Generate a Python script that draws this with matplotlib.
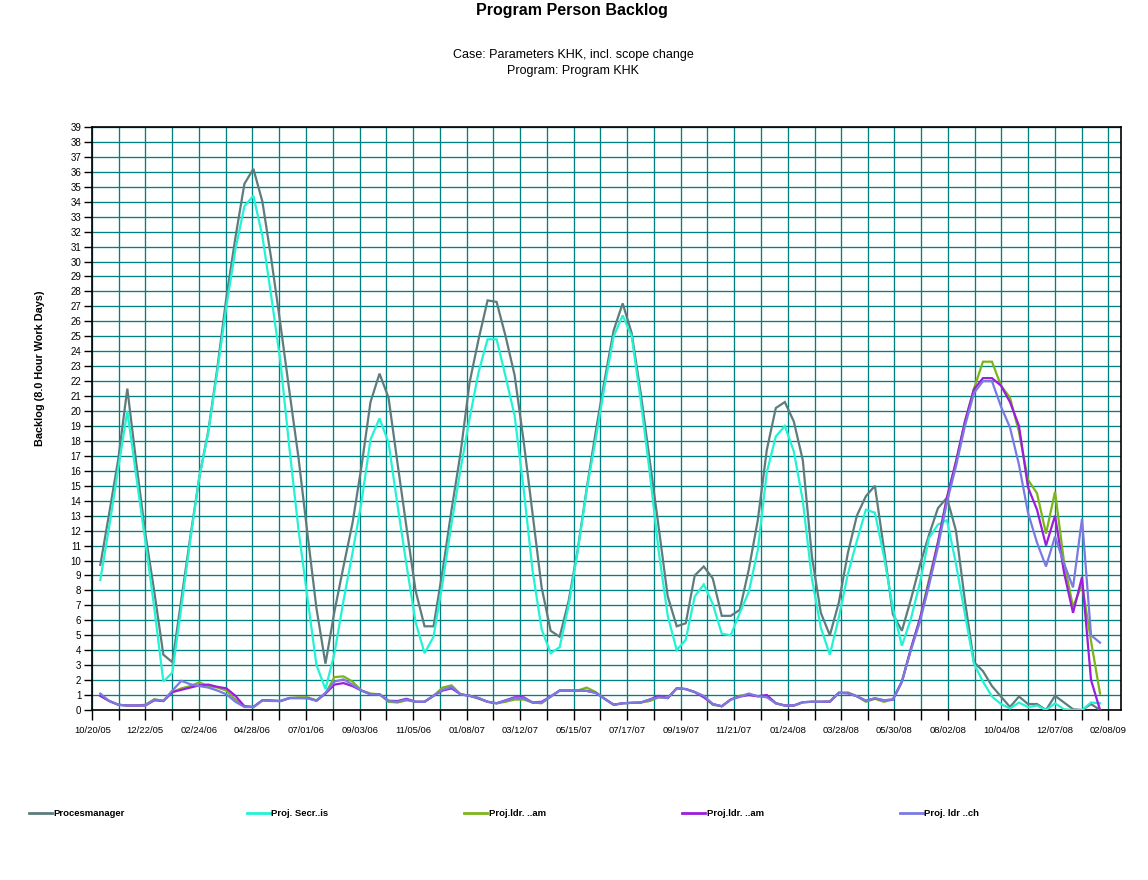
import numpy as np
import pandas as pd
import matplotlib
matplotlib.use("Agg")
import matplotlib.pyplot as plt
from matplotlib.lines import Line2D

plt.rcParams['font.family'] = ['Liberation Sans', 'DejaVu Sans']

# ---------------- data ----------------
title = "Program Person Backlog"
subtitle1 = "Case: Parameters KHK, incl. scope change"
subtitle2 = "Program: Program KHK"
ylabel = "Backlog (8.0 Hour Work Days)"

tick_labels = ['10/20/05', '12/22/05', '02/24/06', '04/28/06', '07/01/06', '09/03/06',
               '11/05/06', '01/08/07', '03/12/07', '05/15/07', '07/17/07', '09/19/07',
               '11/21/07', '01/24/08', '03/28/08', '05/30/08', '08/02/08', '10/04/08',
               '12/07/08', '02/08/09']

series_names = ['Procesmanager', 'Proj. Secr..is', 'Proj.ldr. ..am', 'Proj.ldr. ..am', 'Proj. ldr ..ch']
series_colors = ['#5E7C7C', '#22F2D6', '#7CB518', '#9A1EDC', '#7A7AE2']

# sample times: days after 10/20/05 of the first sample, and sample step (days)
first_sample_day = 9.5
sample_step_days = 10.7

procesmanager = [
    9.7, 13.2, 16.8, 21.5, 16.5, 11.8, 7.9, 3.7, 3.2, 7.4,
    11.6, 15.6, 18.7, 22.9, 27.6, 31.6, 35.2, 36.2, 34.0, 30.1,
    25.8, 21.3, 16.9, 11.8, 6.8, 3.1, 6.6, 9.6, 12.5, 16.3,
    20.6, 22.5, 20.9, 16.5, 12.2, 8.0, 5.6, 5.6, 9.3, 13.4,
    17.2, 21.9, 24.8, 27.4, 27.3, 25.0, 22.4, 18.0, 13.1, 8.2,
    5.3, 4.9, 7.3, 10.7, 14.8, 18.6, 22.1, 25.4, 27.2, 25.2,
    21.2, 16.7, 12.2, 7.6, 5.6, 5.8, 9.0, 9.6, 8.8, 6.3,
    6.3, 6.7, 9.4, 12.7, 17.4, 20.2, 20.6, 19.3, 16.7, 10.3,
    6.5, 5.0, 7.2, 10.5, 13.0, 14.3, 15.0, 10.8, 6.4, 5.3,
    7.4, 9.7, 11.7, 13.5, 14.2, 12.0, 7.3, 3.2, 2.6, 1.6,
    0.9, 0.2, 0.9, 0.4, 0.4, 0.0, 0.95, 0.5, 0.05, 0.0,
    0.4, 0.0]

proj_secr = [
    8.7, 12.3, 16.2, 20.0, 15.6, 11.3, 6.8, 1.9, 2.5, 6.9,
    11.4, 15.6, 18.6, 22.7, 27.0, 30.8, 33.7, 34.4, 31.7, 27.6,
    23.3, 17.5, 12.1, 7.5, 3.0, 1.4, 3.8, 7.3, 10.5, 13.9,
    18.1, 19.5, 17.9, 13.7, 9.7, 5.9, 3.8, 4.9, 8.5, 12.5,
    16.1, 19.5, 22.6, 24.8, 24.8, 22.3, 19.7, 14.8, 9.3, 5.4,
    3.8, 4.2, 7.0, 10.6, 14.7, 18.1, 21.7, 25.0, 26.4, 25.0,
    20.7, 15.9, 10.6, 6.3, 4.0, 4.7, 7.6, 8.4, 7.1, 5.1,
    5.0, 6.5, 7.9, 10.7, 15.9, 18.3, 19.0, 17.3, 14.0, 8.8,
    5.5, 3.7, 6.2, 9.1, 11.3, 13.4, 13.2, 10.3, 6.8, 4.3,
    6.1, 8.5, 11.5, 12.4, 12.7, 9.8, 6.4, 3.1, 1.9, 0.9,
    0.4, 0.1, 0.5, 0.2, 0.3, 0.0, 0.45, 0.05, 0.0, 0.0,
    0.5, 0.45]

proj_ldr_am_green = [
    0.95, 0.6, 0.35, 0.3, 0.3, 0.35, 0.72, 0.6, 1.2, 1.45,
    1.6, 1.85, 1.6, 1.5, 1.3, 0.7, 0.25, 0.2, 0.65, 0.65,
    0.6, 0.8, 0.85, 0.85, 0.65, 1.1, 2.2, 2.25, 1.9, 1.3,
    1.1, 1.05, 0.55, 0.5, 0.65, 0.55, 0.55, 0.95, 1.5, 1.65,
    1.05, 0.95, 0.75, 0.55, 0.45, 0.55, 0.7, 0.7, 0.5, 0.45,
    0.9, 1.3, 1.3, 1.3, 1.5, 1.2, 0.75, 0.35, 0.45, 0.48,
    0.5, 0.6, 0.85, 0.8, 1.45, 1.4, 1.2, 0.9, 0.35, 0.25,
    0.7, 0.95, 1.05, 0.92, 0.95, 0.45, 0.3, 0.3, 0.52, 0.55,
    0.55, 0.56, 1.15, 1.18, 0.92, 0.55, 0.75, 0.55, 0.7, 1.9,
    4.1, 6.1, 8.7, 11.2, 14.2, 16.6, 19.3, 21.5, 23.3, 23.3,
    21.7, 20.9, 18.6, 15.4, 14.5, 11.8, 14.6, 9.9, 6.9, 8.4,
    4.6, 1.1]

proj_ldr_am_purple = [
    0.95, 0.6, 0.35, 0.3, 0.3, 0.3, 0.65, 0.6, 1.2, 1.35,
    1.5, 1.65, 1.7, 1.55, 1.45, 0.95, 0.25, 0.2, 0.65, 0.62,
    0.6, 0.8, 0.8, 0.8, 0.62, 1.1, 1.7, 1.8, 1.6, 1.3,
    1.05, 1.05, 0.62, 0.6, 0.75, 0.55, 0.55, 0.95, 1.3, 1.45,
    1.05, 0.95, 0.8, 0.55, 0.45, 0.65, 0.85, 0.85, 0.5, 0.55,
    0.9, 1.3, 1.3, 1.3, 1.28, 1.15, 0.75, 0.35, 0.45, 0.48,
    0.5, 0.7, 0.95, 0.8, 1.45, 1.4, 1.2, 0.85, 0.4, 0.25,
    0.7, 0.9, 1.0, 0.92, 1.0, 0.45, 0.3, 0.3, 0.52, 0.55,
    0.55, 0.56, 1.15, 1.12, 0.92, 0.62, 0.78, 0.65, 0.7, 1.9,
    4.1, 6.1, 8.5, 11.2, 14.2, 16.6, 19.3, 21.45, 22.2, 22.2,
    21.7, 20.6, 19.0, 14.9, 13.4, 11.0, 13.0, 9.2, 6.5, 8.9,
    2.0, 0.0]

proj_ldr_ch = [
    1.1, 0.6, 0.35, 0.3, 0.3, 0.3, 0.7, 0.62, 1.3, 1.95,
    1.72, 1.6, 1.5, 1.3, 1.05, 0.55, 0.2, 0.2, 0.65, 0.6,
    0.6, 0.8, 0.8, 0.78, 0.62, 1.15, 1.9, 2.05, 1.7, 1.3,
    1.05, 1.05, 0.6, 0.55, 0.7, 0.55, 0.55, 0.95, 1.35, 1.55,
    1.05, 0.95, 0.8, 0.55, 0.45, 0.62, 0.8, 0.78, 0.5, 0.5,
    0.9, 1.3, 1.3, 1.3, 1.28, 1.15, 0.75, 0.35, 0.45, 0.48,
    0.5, 0.7, 0.85, 0.8, 1.45, 1.4, 1.2, 0.95, 0.4, 0.25,
    0.7, 0.88, 1.1, 0.92, 0.85, 0.45, 0.3, 0.3, 0.52, 0.55,
    0.55, 0.56, 1.15, 1.12, 0.92, 0.62, 0.78, 0.65, 0.7, 1.9,
    4.0, 5.9, 8.3, 10.9, 13.9, 16.3, 19.0, 21.2, 22.0, 22.0,
    20.3, 18.9, 16.4, 13.2, 11.2, 9.6, 11.6, 9.8, 8.2, 12.8,
    5.0, 4.5]

all_series = [procesmanager, proj_secr, proj_ldr_am_green, proj_ldr_am_purple, proj_ldr_ch]

# ---------------- figure ----------------
W, H = 1148, 880
fig = plt.figure(figsize=(W / 100, H / 100), dpi=100)
fig.patch.set_facecolor('white')

ax_l, ax_r, ax_t, ax_b = 92.3, 1120.7, 127.0, 710.0
ax = fig.add_axes([ax_l / W, 1 - ax_b / H, (ax_r - ax_l) / W, (ax_b - ax_t) / H])

tick_dates = pd.to_datetime(tick_labels, format='%m/%d/%y')
tick_days = np.array([(d - tick_dates[0]).days for d in tick_dates], dtype=float)
mid_days = (tick_days[:-1] + tick_days[1:]) / 2
all_ticks = np.sort(np.concatenate([tick_days, mid_days]))
all_labels = []
for t in all_ticks:
    if np.any(np.isclose(t, tick_days)):
        all_labels.append(tick_labels[int(np.argmin(np.abs(tick_days - t)))])
    else:
        all_labels.append('')

px_per_day = (1108.3 - 92.3) / tick_days[-1]
x_right = (ax_r - ax_l) / px_per_day

n = len(procesmanager)
days = first_sample_day + sample_step_days * np.arange(n)

for vals, name, col in zip(all_series, series_names, series_colors):
    ax.plot(days, vals, color=col, lw=1.6, solid_joinstyle='miter', label=name, zorder=3)

ax.set_xlim(0, x_right)
ax.set_ylim(0, 39)
ax.set_xticks(all_ticks)
ax.set_xticklabels(all_labels, fontsize=6.8)
ax.set_yticks(range(0, 40))
ax.set_yticklabels([str(i) for i in range(0, 40)], fontsize=7.0)
ax.grid(True, color='#008080', lw=0.95, zorder=1)
ax.set_axisbelow(True)
ax.tick_params(axis='x', direction='out', length=7.5, width=1.0, color='black', pad=4)
ax.tick_params(axis='y', direction='out', length=6, width=1.0, color='black', pad=2)
for s in ax.spines.values():
    s.set_color('black')
    s.set_linewidth(1.2)

# ---------------- texts ----------------
fig.text(572 / W, 1 - 10 / H, title, ha='center', va='center', fontsize=11.5, weight='bold')
fig.text(573 / W, 1 - 55 / H, subtitle1, ha='center', va='center', fontsize=9)
fig.text(573 / W, 1 - 71 / H, subtitle2, ha='center', va='center', fontsize=9)
fig.text(40 / W, 1 - 368 / H, ylabel, ha='center', va='center', rotation=90,
         fontsize=7.8, weight='bold')

# ---------------- legend ----------------
leg_y = 813
for i, (name, col) in enumerate(zip(series_names, series_colors)):
    x0 = 28.7 + 217.8 * i
    fig.add_artist(Line2D([x0 / W, (x0 + 23) / W], [1 - leg_y / H, 1 - leg_y / H],
                          color=col, lw=2.0, transform=fig.transFigure))
    fig.text((x0 + 24.5) / W, 1 - leg_y / H, name, ha='left', va='center',
             fontsize=6.8, weight='bold')

fig.savefig('out.png', dpi=100, facecolor='white')
